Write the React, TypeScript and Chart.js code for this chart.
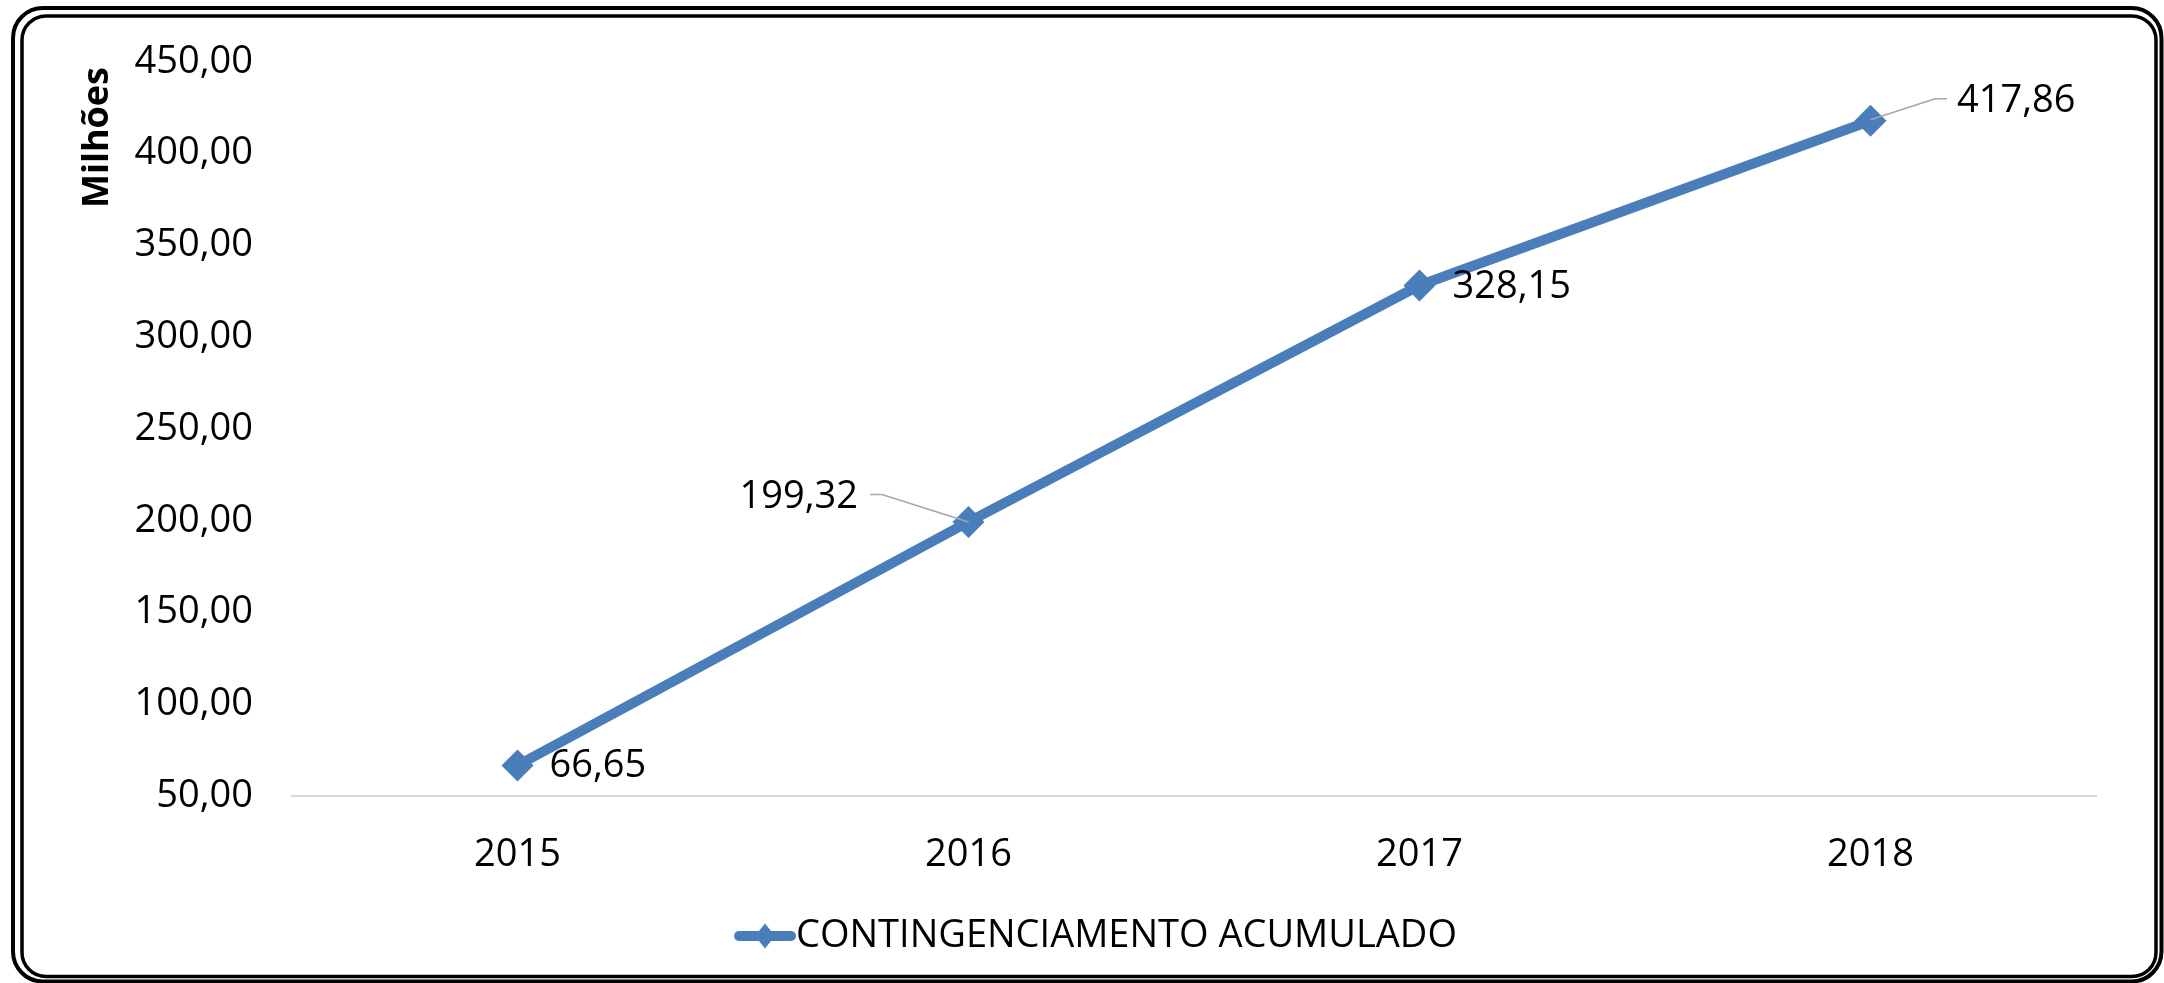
import React, { useEffect, useRef } from 'react';
import { Chart, registerables } from 'chart.js';

Chart.register(...registerables);

// ---- data ----
const categories = ['2015', '2016', '2017', '2018'];
const seriesName = 'CONTINGENCIAMENTO ACUMULADO';
const values = [66.65, 199.32, 328.15, 417.86];
const yTicks = [50, 100, 150, 200, 250, 300, 350, 400, 450];
const axisTitle = 'Milhões';

// ---- label placement (relative to each point) ----
const labelDx = [32, -110.5, 33, 86.5];
const labelDy = [1, -24.5, 2, -20];
const labelAlign: CanvasTextAlign[] = ['left', 'right', 'left', 'left'];
const leaders: (number[][] | null)[] = [
  null,
  [[0, 0], [-86.5, -27.5], [-98.5, -27.5]],
  null,
  [[0, -1], [64.5, -22], [76.5, -22]],
];

const FONT = '"Open Sans", sans-serif';
const BLUE = '#4A7EBB';
const fmt = (v: number) => v.toFixed(2).replace('.', ',');

function roundRectPath(ctx: CanvasRenderingContext2D, x: number, y: number, w: number, h: number, r: number) {
  ctx.beginPath();
  ctx.moveTo(x + r, y);
  ctx.lineTo(x + w - r, y);
  ctx.arcTo(x + w, y, x + w, y + r, r);
  ctx.lineTo(x + w, y + h - r);
  ctx.arcTo(x + w, y + h, x + w - r, y + h, r);
  ctx.lineTo(x + r, y + h);
  ctx.arcTo(x, y + h, x, y + h - r, r);
  ctx.lineTo(x, y + r);
  ctx.arcTo(x, y, x + r, y, r);
  ctx.closePath();
}

const framePlugin = {
  id: 'frame',
  beforeDraw(chart: any) {
    const ctx: CanvasRenderingContext2D = chart.ctx;
    ctx.save();
    ctx.fillStyle = '#ffffff';
    ctx.fillRect(0, 0, chart.width, chart.height);
    ctx.strokeStyle = '#000000';
    ctx.lineWidth = 4;
    roundRectPath(ctx, 13, 8, 2161.5 - 13, 981.5 - 8, 30);
    ctx.stroke();
    ctx.lineWidth = 3.5;
    roundRectPath(ctx, 22, 16, 2156 - 22, 976.5 - 16, 24);
    ctx.stroke();
    ctx.restore();
  },
};

const labelPlugin = {
  id: 'pointLabels',
  afterDatasetsDraw(chart: any) {
    const ctx: CanvasRenderingContext2D = chart.ctx;
    const meta = chart.getDatasetMeta(0);
    ctx.save();
    meta.data.forEach((pt: any, i: number) => {
      const x = pt.x;
      const y = pt.y;
      const ld = leaders[i];
      if (ld) {
        ctx.strokeStyle = '#A6A6A6';
        ctx.lineWidth = 1.5;
        ctx.beginPath();
        ctx.moveTo(x + ld[0][0], y + ld[0][1]);
        for (let k = 1; k < ld.length; k++) ctx.lineTo(x + ld[k][0], y + ld[k][1]);
        ctx.stroke();
      }
      ctx.fillStyle = '#000000';
      ctx.font = `38px ${FONT}`;
      ctx.textAlign = labelAlign[i];
      ctx.textBaseline = 'middle';
      ctx.fillText(fmt(values[i]), x + labelDx[i], y + labelDy[i]);
    });
    // y axis title, placed at the top end of the axis
    ctx.translate(108, 67);
    ctx.rotate(-Math.PI / 2);
    ctx.font = `bold 36px ${FONT}`;
    ctx.textAlign = 'right';
    ctx.textBaseline = 'alphabetic';
    ctx.fillStyle = '#000000';
    ctx.fillText(axisTitle, 0, 0);
    ctx.restore();
  },
};

function makeLegendImage(): HTMLCanvasElement {
  const c = document.createElement('canvas');
  c.width = 62;
  c.height = 26;
  const g = c.getContext('2d')!;
  g.strokeStyle = BLUE;
  g.lineWidth = 10;
  g.lineCap = 'round';
  g.beginPath();
  g.moveTo(5, 13);
  g.lineTo(57, 13);
  g.stroke();
  g.fillStyle = BLUE;
  g.beginPath();
  g.moveTo(31, 0.5);
  g.lineTo(41, 13);
  g.lineTo(31, 25.5);
  g.lineTo(21, 13);
  g.closePath();
  g.fill();
  return c;
}

export default function App() {
  const ref = useRef<HTMLCanvasElement>(null);
  useEffect(() => {
    document.body.style.margin = '0';
    document.body.style.overflow = 'hidden';
    const canvas = ref.current!;
    const legendImg = makeLegendImage();
    const chart = new Chart(canvas, {
      type: 'line',
      data: {
        labels: categories,
        datasets: [
          {
            label: seriesName,
            data: values,
            borderColor: BLUE,
            backgroundColor: BLUE,
            borderWidth: 10,
            pointStyle: 'rectRot',
            pointRadius: 16,
            pointHoverRadius: 16,
            pointBackgroundColor: BLUE,
            pointBorderColor: BLUE,
            pointBorderWidth: 0,
            tension: 0,
          },
        ],
      },
      options: {
        responsive: false,
        animation: false,
        devicePixelRatio: 1,
        layout: { padding: { top: 56, right: 68, left: 114, bottom: 18 } },
        plugins: {
          legend: {
            position: 'bottom',
            labels: {
              usePointStyle: true,
              pointStyleWidth: 24,
              padding: 10,
              color: '#000000',
              font: { family: FONT, size: 38 },
              generateLabels: (ch: any) =>
                ch.data.datasets.map((ds: any, i: number) => ({
                  text: ds.label,
                  pointStyle: legendImg,
                  fillStyle: BLUE,
                  strokeStyle: BLUE,
                  lineWidth: 0,
                  hidden: false,
                  datasetIndex: i,
                  fontColor: '#000000',
                })),
            },
          },
          tooltip: { enabled: false },
        },
        scales: {
          x: {
            type: 'category',
            offset: true,
            grid: { display: false, drawTicks: false },
            border: { display: true, color: '#D9D9D9', width: 2 },
            ticks: { color: '#000000', font: { family: FONT, size: 38 }, padding: 36 },
            afterFit: (s: any) => {
              s.height = 111;
            },
          },
          y: {
            min: 50,
            max: 450,
            grid: { display: false, drawTicks: false },
            border: { display: false },
            afterBuildTicks: (s: any) => {
              s.ticks = yTicks.map((v) => ({ value: v }));
            },
            ticks: {
              color: '#000000',
              font: { family: FONT, size: 38 },
              padding: 39,
              callback: (v: any) => fmt(Number(v)),
            },
            afterFit: (s: any) => {
              s.width = 292 - 114;
            },
          },
        },
      },
      plugins: [framePlugin, labelPlugin],
    } as any);
    return () => chart.destroy();
  }, []);
  return (
    <div style={{ width: 2164, height: 983 }}>
      <canvas ref={ref} width={2164} height={983} style={{ display: 'block', width: 2164, height: 983 }} />
    </div>
  );
}
